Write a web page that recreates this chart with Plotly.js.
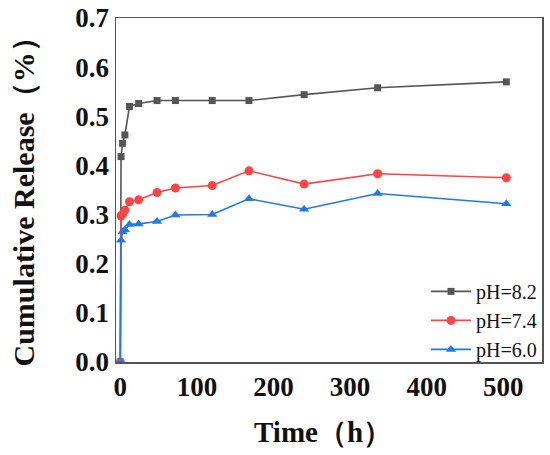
<!DOCTYPE html>
<html>
<head>
<meta charset="utf-8">
<script src="https://cdn.plot.ly/plotly-3.0.1.min.js"></script>
<style>html,body{margin:0;padding:0;background:#fff;}#chart{width:550px;height:455px;}</style>
</head>
<body>
<div id="chart"></div>
<script>
// Time points (h)
const timeH = [0, 1, 3, 6, 12, 24, 48, 72, 120, 168, 240, 336, 504];
// Cumulative release (%) per pH
const releasePH82 = [0, 0.418, 0.445, 0.462, 0.520, 0.526, 0.532, 0.532, 0.532, 0.532, 0.544, 0.558, 0.570];
const releasePH74 = [0, 0.297, 0.301, 0.309, 0.326, 0.330, 0.345, 0.354, 0.359, 0.389, 0.362, 0.383, 0.375];
const releasePH60 = [0, 0.248, 0.265, 0.269, 0.280, 0.281, 0.286, 0.299, 0.300, 0.332, 0.311, 0.343, 0.322];
const seriesNames = ['pH=8.2', 'pH=7.4', 'pH=6.0'];
const yTickVals = [0, 0.1, 0.2, 0.3, 0.4, 0.5, 0.6, 0.7];
const yTickText = ['0.0', '0.1', '0.2', '0.3', '0.4', '0.5', '0.6', '0.7'];
const xTickVals = [0, 100, 200, 300, 400, 500];
const xTickText = ['0', '100', '200', '300', '400', '500'];
const xTitle = 'Time（h）';
const yTitle = 'Cumulative Release（%）';

const serif = 'Liberation Serif';
const bold = s => '<b>' + s + '</b>';

const traces = [
  {x: timeH, y: releasePH82, name: seriesNames[0], mode: 'lines+markers',
   line: {color: '#555555', width: 1.6}, marker: {symbol: 'square', size: 7, color: '#555555'}},
  {x: timeH, y: releasePH74, name: seriesNames[1], mode: 'lines+markers',
   line: {color: '#ff4444', width: 1.6}, marker: {symbol: 'circle', size: 9, color: '#ff4444'}},
  {x: timeH, y: releasePH60, name: seriesNames[2], mode: 'lines+markers',
   line: {color: '#1f7ae8', width: 1.6}, marker: {symbol: 'triangle-up', size: 9, color: '#1f7ae8'}}
];

const layout = {
  width: 550, height: 455,
  margin: {l: 116, r: 8, t: 18, b: 93},
  paper_bgcolor: '#ffffff', plot_bgcolor: '#ffffff',
  font: {family: serif},
  showlegend: true,
  legend: {x: 1, y: -0.02, xanchor: 'right', yanchor: 'bottom',
    font: {family: serif, size: 20, color: '#111'}, bgcolor: 'rgba(0,0,0,0)',
    tracegroupgap: 0, itemwidth: 40},
  xaxis: {
    range: [-5.6, 550.6], tickvals: xTickVals, ticktext: xTickText.map(bold), showgrid: false, zeroline: false,
    showline: true, mirror: true, linecolor: '#555', linewidth: 1.5, ticks: '',
    tickfont: {family: serif, size: 27, color: '#111'}
  },
  yaxis: {
    range: [0, 0.7], tickvals: yTickVals, ticktext: yTickText.map(bold), showgrid: false, zeroline: false,
    showline: true, mirror: true, linecolor: '#555', linewidth: 1.5, ticks: '',
    tickfont: {family: serif, size: 27, color: '#111'}
  },
  annotations: [
    {text: bold(xTitle), xref: 'paper', yref: 'paper', x: 0.486, y: -0.2035,
     xanchor: 'center', yanchor: 'middle', showarrow: false,
     font: {family: serif, size: 29, color: '#111'}},
    {text: bold(yTitle), xref: 'paper', yref: 'paper', x: -0.2183, y: 0.487,
     xanchor: 'center', yanchor: 'middle', showarrow: false, textangle: -90,
     font: {family: serif, size: 30, color: '#111'}}
  ]
};

Plotly.newPlot('chart', traces, layout, {displayModeBar: false, staticPlot: true});
</script>
</body>
</html>
